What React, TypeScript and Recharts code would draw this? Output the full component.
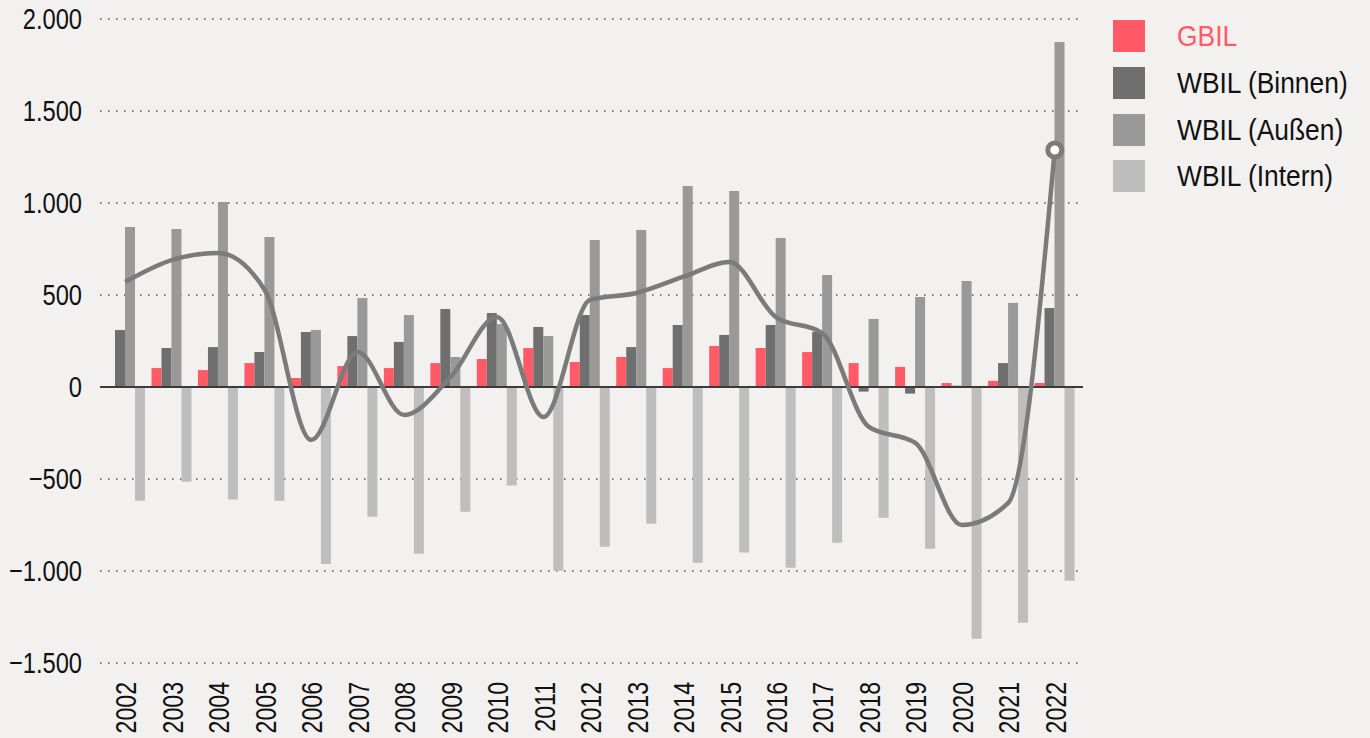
import React from "react";
import {
  ComposedChart,
  Bar,
  Line,
  XAxis,
  YAxis,
  CartesianGrid,
  ReferenceLine,
} from "recharts";

const years = [
  "2002", "2003", "2004", "2005", "2006", "2007", "2008", "2009", "2010", "2011", "2012",
  "2013", "2014", "2015", "2016", "2017", "2018", "2019", "2020", "2021", "2022",
];
const gbil = [0, 103, 92, 130, 49, 114, 103, 130, 152, 212, 136, 163, 103, 223, 212, 190, 130, 109, 22, 33, 22];
const wbilBinnen = [310, 212, 217, 190, 299, 277, 245, 424, 402, 326, 391, 217, 337, 283, 337, 300, -25, -36, 7, 130, 429];
const wbilAussen = [870, 859, 1005, 815, 310, 484, 391, 163, 342, 277, 799, 853, 1092, 1065, 810, 609, 370, 489, 576, 457, 1875];
const wbilIntern = [-618, -515, -612, -618, -962, -705, -906, -678, -536, -998, -868, -743, -955, -900, -982, -846, -710, -879, -1368, -1281, -1053];
const total = [571, 690, 728, 527, -288, 190, -152, 54, 380, -163, 473, 511, 598, 679, 380, 293, -217, -304, -750, -630, 1288];
const yTicks = [-1500, -1000, -500, 0, 500, 1000, 1500, 2000];

const legendItems = [
  { name: "GBIL", color: "#ff5a65", text: "#ff5a65" },
  { name: "WBIL (Binnen)", color: "#6f6f6f", text: "#111" },
  { name: "WBIL (Außen)", color: "#999999", text: "#111" },
  { name: "WBIL (Intern)", color: "#bebebe", text: "#111" },
];

const data = years.map((y, i) => ({
  year: y,
  gbil: gbil[i],
  binnen: wbilBinnen[i],
  aussen: wbilAussen[i],
  intern: wbilIntern[i],
  total: total[i],
}));

const FONT = "'Liberation Sans', Arial, sans-serif";

const fmt = (v: number) => {
  const abs = Math.abs(v);
  const s = abs >= 1000 ? `${Math.floor(abs / 1000)}.${String(abs % 1000).padStart(3, "0")}` : `${abs}`;
  return v < 0 ? `\u2212${s}` : s;
};

const XTick = (props: any) => {
  const { x, y, payload } = props;
  return (
    <text
      transform={`translate(${x + 1},${y}) rotate(-90) scale(0.77,1)`}
      textAnchor="end"
      dominantBaseline="central"
      fontSize={30}
      fontFamily={FONT}
      fill="#111"
    >
      {payload.value}
    </text>
  );
};

const YTick = (props: any) => {
  const { x, y, payload } = props;
  return (
    <text
      transform={`translate(${x},${y}) scale(0.79,1)`}
      textAnchor="end"
      dominantBaseline="central"
      fontSize={30}
      fontFamily={FONT}
      fill="#111"
    >
      {fmt(payload.value)}
    </text>
  );
};

const LastDot = (props: any) => {
  const { cx, cy, index } = props;
  if (index !== years.length - 1) return <g key={`d${index}`} />;
  return <circle key={`d${index}`} cx={cx} cy={cy} r={7} fill="#ffffff" stroke="#7b7b7b" strokeWidth={5} />;
};

const ZeroLine = (props: any) => {
  const { x1, x2, y1 } = props;
  return <line x1={x1 - 2} x2={x2 + 5} y1={y1} y2={y1} stroke="#3a3a3a" strokeWidth={2} />;
};

export default function App() {
  return (
    <div style={{ position: "absolute", left: 0, top: 0, width: 1370, height: 738, background: "#f2f1ef", overflow: "hidden" }}>
      <ComposedChart
        width={1370}
        height={738}
        data={data}
        margin={{ top: 19, right: 292, bottom: 0, left: 0 }}
        barCategoryGap={3}
        barGap={0}
      >
        <CartesianGrid
          vertical={false}
          x={100}
          width={983}
          stroke="#555"
          strokeDasharray="1.5 6.5"
          strokeWidth={1.5}
        />
        <XAxis
          dataKey="year"
          axisLine={false}
          tickLine={false}
          height={75}
          tick={<XTick />}
          tickSize={0}
          tickMargin={19}
          interval={0}
        />
        <YAxis
          domain={[-1500, 2000]}
          ticks={yTicks}
          width={102}
          axisLine={false}
          tickLine={false}
          tickSize={0}
          tickMargin={20}
          tick={<YTick />}
          interval={0}
        />
        <Bar dataKey="gbil" fill="#ff5a65" isAnimationActive={false} />
        <Bar dataKey="binnen" fill="#6f6f6f" isAnimationActive={false} />
        <Bar dataKey="aussen" fill="#999999" isAnimationActive={false} />
        <Bar dataKey="intern" fill="#bebebe" isAnimationActive={false} />
        <ReferenceLine y={0} stroke="#3a3a3a" strokeWidth={2} shape={<ZeroLine />} />
        <Line
          type="monotone"
          dataKey="total"
          stroke="#7b7b7b"
          strokeWidth={4.5}
          dot={<LastDot />}
          activeDot={false}
          isAnimationActive={false}
        />
      </ComposedChart>
      <div style={{ position: "absolute", left: 1113, top: 13, fontFamily: FONT }}>
        {legendItems.map((it) => (
          <div key={it.name} style={{ display: "flex", alignItems: "center", height: 46.7, whiteSpace: "nowrap" }}>
            <div style={{ width: 32, height: 32, background: it.color, flex: "none" }} />
            <span
              style={{
                marginLeft: 32,
                fontSize: 30,
                color: it.text,
                lineHeight: "32px",
                display: "inline-block",
                transform: "scaleX(0.88)",
                transformOrigin: "left center",
              }}
            >
              {it.name}
            </span>
          </div>
        ))}
      </div>
    </div>
  );
}
